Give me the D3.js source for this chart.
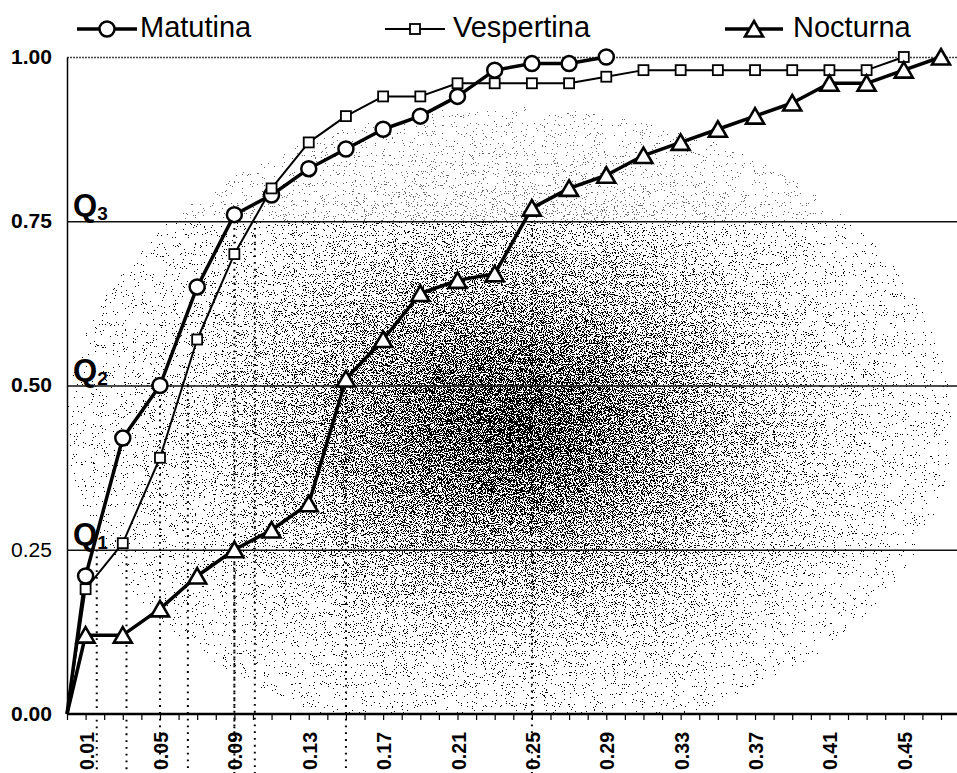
<!DOCTYPE html>
<html>
<head>
<meta charset="utf-8">
<script src="https://cdn.jsdelivr.net/npm/d3@7"></script>
<style>
  html, body { margin: 0; padding: 0; background: #fff; }
  svg { display: block; font-family: "Liberation Sans", Arial, sans-serif; }
</style>
</head>
<body>
<svg></svg>
<script>
// cumulative proportion by value, three shifts
let xValues = [0, 0.01, 0.03, 0.05, 0.07, 0.09, 0.11, 0.13, 0.15, 0.17, 0.19, 0.21, 0.23,
               0.25, 0.27, 0.29, 0.31, 0.33, 0.35, 0.37, 0.39, 0.41, 0.43, 0.45, 0.47];
let matutina = [0, 0.21, 0.42, 0.50, 0.65, 0.76, 0.79, 0.83, 0.86, 0.89, 0.91, 0.94, 0.98,
                0.99, 0.99, 1.00];
let vespertina = [0, 0.19, 0.26, 0.39, 0.57, 0.70, 0.80, 0.87, 0.91, 0.94, 0.94, 0.96, 0.96,
                  0.96, 0.96, 0.97, 0.98, 0.98, 0.98, 0.98, 0.98, 0.98, 0.98, 1.00];
let nocturna = [0, 0.12, 0.12, 0.16, 0.21, 0.25, 0.28, 0.32, 0.51, 0.57, 0.64, 0.66, 0.67,
                0.77, 0.80, 0.82, 0.85, 0.87, 0.89, 0.91, 0.93, 0.96, 0.96, 0.98, 1.00];

// quartile projections (matutina, vespertina, nocturna)
let q1X = [0.016, 0.032, 0.09];
let q2X = [0.05, 0.065, 0.15];
let q3X = [0.09, 0.101, 0.25];
let quartileLevels = [0.25, 0.50, 0.75];
let quartileNames = ["1", "2", "3"];

let yTicks = [0, 0.25, 0.50, 0.75, 1.00];
let xLabelTicks = [0.01, 0.05, 0.09, 0.13, 0.17, 0.21, 0.25, 0.29, 0.33, 0.37, 0.41, 0.45];
let xMinorTicks = d3.range(0, 49).map(i => i / 100);
let seriesNames = ["Matutina", "Vespertina", "Nocturna"];

let svgWidth = 957;
let svgHeight = 773;
let plotLeft = 67, plotRight = 941, plotTop = 57, plotBottom = 714;

let svg = d3.select("svg")
            .attr("width", svgWidth)
            .attr("height", svgHeight);

let xScale = d3.scaleLinear().domain([0, 0.47]).range([plotLeft, plotRight]);
let yScale = d3.scaleLinear().domain([0, 1]).range([plotBottom, plotTop]);

// stippled shading behind the plot
let defs = svg.append("defs");
let grad = defs.append("radialGradient")
  .attr("id", "shade")
  .attr("gradientUnits", "userSpaceOnUse")
  .attr("cx", 510).attr("cy", 425).attr("r", 460)
  .attr("gradientTransform", "translate(510 425) scale(1 0.72) translate(-510 -425)");
[[0, 0.66], [0.2, 0.56], [0.45, 0.36], [0.7, 0.15], [0.9, 0.04], [1, 0.01]].forEach(s => {
  grad.append("stop").attr("offset", s[0]).attr("stop-color", "#000").attr("stop-opacity", s[1]);
});

let filt = defs.append("filter")
  .attr("id", "grain")
  .attr("x", 0).attr("y", 0).attr("width", 1).attr("height", 1)
  .attr("color-interpolation-filters", "sRGB");
filt.append("feTurbulence")
  .attr("type", "fractalNoise").attr("baseFrequency", 0.9)
  .attr("numOctaves", 2).attr("seed", 7).attr("result", "noise");
filt.append("feColorMatrix")
  .attr("in", "noise").attr("type", "matrix")
  .attr("values", "0 0 0 0 0  0 0 0 0 0  0 0 0 0 0  2.2 0 0 0 -0.6")
  .attr("result", "rnd");
filt.append("feComposite")
  .attr("in", "SourceGraphic").attr("in2", "rnd")
  .attr("operator", "arithmetic")
  .attr("k1", 0).attr("k2", 1).attr("k3", -1).attr("k4", 0.48)
  .attr("result", "diff");
let ct = filt.append("feComponentTransfer").attr("in", "diff");
["feFuncR", "feFuncG", "feFuncB"].forEach(f => {
  ct.append(f).attr("type", "linear").attr("slope", 0).attr("intercept", 0);
});
ct.append("feFuncA").attr("type", "discrete").attr("tableValues", "0 1");

// lighter above Q3, full below
svg.append("rect")
  .attr("x", plotLeft).attr("y", yScale(0.75))
  .attr("width", svgWidth - plotLeft).attr("height", plotBottom - yScale(0.75))
  .attr("fill", "url(#shade)")
  .attr("filter", "url(#grain)");
svg.append("rect")
  .attr("x", plotLeft).attr("y", plotTop)
  .attr("width", svgWidth - plotLeft).attr("height", yScale(0.75) - plotTop)
  .attr("fill", "url(#shade)")
  .attr("opacity", 0.6)
  .attr("filter", "url(#grain)");

// horizontal grid lines
let grid = svg.append("g")
  .attr("transform", `translate(${plotLeft}, 0)`)
  .call(d3.axisLeft(yScale)
          .tickValues(yTicks.slice(1))
          .tickSize(-(svgWidth - plotLeft))
          .tickFormat(""));
grid.select(".domain").remove();
grid.selectAll("line")
  .attr("stroke", "#111")
  .attr("stroke-width", 1.3);
grid.selectAll(".tick").filter(d => d === 1)
  .select("line")
  .attr("stroke", "#444")
  .attr("stroke-dasharray", "2,1");

// dotted quartile projections
let quartiles = [q1X, q2X, q3X];
quartiles.forEach((qs, i) => {
  svg.append("g")
    .selectAll("line")
    .data(qs)
    .enter()
    .append("line")
      .attr("x1", d => xScale(d))
      .attr("x2", d => xScale(d))
      .attr("y1", yScale(quartileLevels[i]))
      .attr("y2", svgHeight)
      .attr("stroke", "#000")
      .attr("stroke-width", 2)
      .attr("stroke-dasharray", "1.8,5");
});

// Q labels
quartileLevels.forEach((q, i) => {
  let t = svg.append("text")
    .attr("x", 73)
    .attr("y", yScale(q) - 5)
    .attr("font-weight", "bold")
    .attr("font-size", 31)
    .text("Q");
  t.append("tspan")
    .attr("font-size", 19)
    .attr("dy", 4)
    .text(quartileNames[i]);
});

// y axis
let yAxis = svg.append("g")
  .attr("transform", `translate(${plotLeft}, 0)`)
  .call(d3.axisLeft(yScale)
          .tickValues(yTicks)
          .tickSize(0)
          .tickPadding(15)
          .tickFormat(d3.format(".2f")));
yAxis.attr("font-size", null).attr("font-family", null);
yAxis.select(".domain").attr("stroke", "#000").attr("stroke-width", 1.5);
yAxis.selectAll("text")
  .style("font-size", "20px")
  .attr("font-weight", d => d === 0.25 ? "normal" : "bold")
  .attr("textLength", 41)
  .attr("lengthAdjust", "spacingAndGlyphs")
  .attr("fill", "#000");

// x axis: minor ticks
let xMinor = svg.append("g")
  .attr("transform", `translate(0, ${plotBottom})`)
  .call(d3.axisBottom(xScale)
          .tickValues(xMinorTicks)
          .tickSize(6)
          .tickSizeOuter(0)
          .tickFormat(""));
xMinor.select(".domain")
  .attr("d", `M${plotLeft},0H${svgWidth}`)
  .attr("stroke", "#000")
  .attr("stroke-width", 2.5);
xMinor.selectAll("line").attr("stroke", "#000").attr("stroke-width", 1.2);

// x axis: rotated labels
let xLabels = svg.append("g")
  .attr("transform", `translate(0, ${plotBottom})`)
  .call(d3.axisBottom(xScale)
          .tickValues(xLabelTicks)
          .tickSize(0)
          .tickFormat(d3.format(".2f")));
xLabels.attr("font-size", null).attr("font-family", null);
xLabels.select(".domain").remove();
xLabels.selectAll("text")
  .attr("transform", "rotate(-90)")
  .attr("x", -18)
  .attr("y", 0)
  .attr("dy", "0.36em")
  .attr("text-anchor", "end")
  .style("font-size", "21px")
  .attr("font-weight", "bold")
  .attr("textLength", 38)
  .attr("lengthAdjust", "spacingAndGlyphs")
  .attr("fill", "#000");

// series
let series = [
  { name: seriesNames[0], values: matutina, width: 3.5, marker: "circle" },
  { name: seriesNames[1], values: vespertina, width: 2, marker: "square" },
  { name: seriesNames[2], values: nocturna, width: 3.5, marker: "triangle" }
];

let line = d3.line()
  .x((d, i) => xScale(xValues[i]))
  .y(d => yScale(d));

function drawMarker(g, type) {
  if (type === "circle") {
    g.append("circle").attr("r", 7.5)
      .attr("fill", "#fff").attr("stroke", "#000").attr("stroke-width", 2.5);
  } else if (type === "square") {
    g.append("rect").attr("x", -5).attr("y", -5).attr("width", 10).attr("height", 10)
      .attr("fill", "#fff").attr("stroke", "#000").attr("stroke-width", 1.8);
  } else {
    g.append("path").attr("d", "M0,-8L9,7.5L-9,7.5Z")
      .attr("fill", "#fff").attr("stroke", "#000").attr("stroke-width", 2.6)
      .attr("stroke-linejoin", "miter");
  }
}

series.forEach(s => {
  svg.append("path")
    .datum(s.values)
    .attr("d", line)
    .attr("fill", "none")
    .attr("stroke", "#000")
    .attr("stroke-width", s.width)
    .attr("stroke-linejoin", "round");
});

series.forEach(s => {
  svg.append("g")
    .selectAll("g")
    .data(s.values.slice(1))
    .enter()
    .append("g")
      .attr("transform", (d, i) => `translate(${xScale(xValues[i + 1])}, ${yScale(d)})`)
      .each(function () { drawMarker(d3.select(this), s.marker); });
});

// legend
let legendPos = [
  { x1: 77, x2: 137, tx: 140 },
  { x1: 385, x2: 445, tx: 453 },
  { x1: 725, x2: 783, tx: 793 }
];
series.forEach((s, i) => {
  let p = legendPos[i];
  let g = svg.append("g");
  g.append("line")
    .attr("x1", p.x1).attr("x2", p.x2)
    .attr("y1", 29).attr("y2", 29)
    .attr("stroke", "#000").attr("stroke-width", s.width);
  let m = g.append("g").attr("transform", `translate(${(p.x1 + p.x2) / 2}, 29)`);
  drawMarker(m, s.marker);
  g.append("text")
    .attr("x", p.tx)
    .attr("y", 37)
    .attr("font-size", 29)
    .attr("fill", "#000")
    .text(s.name);
});
</script>
</body>
</html>
